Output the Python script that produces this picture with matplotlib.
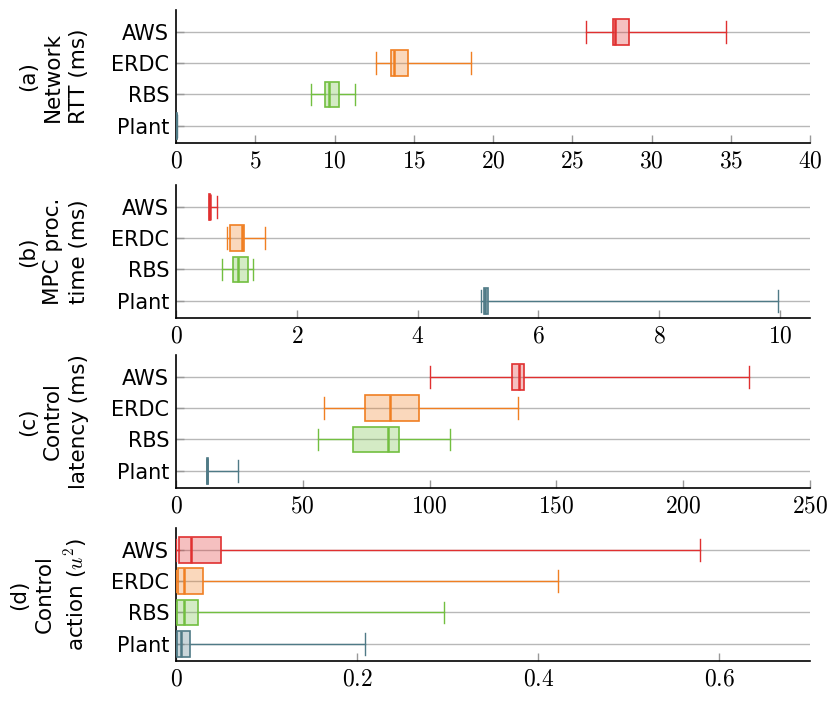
import numpy as np
import matplotlib
matplotlib.use("Agg")
import matplotlib.pyplot as plt
from matplotlib.colors import to_rgba

plt.rcParams['mathtext.fontset'] = 'cm'
plt.rcParams['font.family'] = ['DejaVu Sans']

# categories, bottom to top
sites = ["Plant", "RBS", "ERDC", "AWS"]
colors = ["#4f7a86", "#72bf40", "#f07f22", "#e03030"]

# five-number summaries per site: (whislo, q1, med, q3, whishi)
rtt = [(0.0, 0.0, 0.02, 0.05, 0.05),
       (8.52, 9.37, 9.66, 10.29, 11.3),
       (12.6, 13.57, 13.76, 14.63, 18.6),
       (25.87, 27.6, 27.7, 28.6, 34.7)]
mpc_time = [(5.05, 5.10, 5.12, 5.16, 9.97),
            (0.76, 0.94, 1.035, 1.2, 1.27),
            (0.84, 0.90, 1.09, 1.125, 1.47),
            (0.55, 0.55, 0.56, 0.57, 0.68)]
ctrl_latency = [(12.1, 12.1, 12.4, 12.7, 24.3),
                (55.9, 69.6, 83.7, 88.1, 108.0),
                (58.4, 74.7, 84.5, 95.9, 134.8),
                (100.0, 132.6, 135.3, 137.2, 226.0)]
ctrl_action = [(0.0, 0.001, 0.0056, 0.0157, 0.209),
               (0.0, 0.0014, 0.0083, 0.0245, 0.296),
               (0.0, 0.002, 0.009, 0.0296, 0.422),
               (0.0, 0.003, 0.017, 0.05, 0.579)]

panels = [
    (rtt, "(a)\nNetwork\nRTT (ms)", (0, 40), [0, 5, 10, 15, 20, 25, 30, 35, 40]),
    (mpc_time, "(b)\nMPC proc.\ntime (ms)", (0, 10.5), [0, 2, 4, 6, 8, 10]),
    (ctrl_latency, "(c)\nControl\nlatency (ms)", (0, 250), [0, 50, 100, 150, 200, 250]),
    (ctrl_action, "(d)\nControl\naction ($u^2$)", (0, 0.7), [0, 0.2, 0.4, 0.6]),
]

fig = plt.figure(figsize=(8.35, 7.03), dpi=100)
tops = [10, 185, 355, 528]
h = 133
for (data, label, xlim, ticks), top in zip(panels, tops):
    ax = fig.add_axes([176 / 835, 1 - (top + h) / 703, 634 / 835, h / 703])
    for i, (s, c) in enumerate(zip(data, colors)):
        st = dict(whislo=s[0], q1=s[1], med=s[2], q3=s[3], whishi=s[4], fliers=[])
        ax.bxp([st], positions=[i + 1], vert=False, widths=0.82, patch_artist=True,
               showfliers=False, capwidths=0.7,
               boxprops=dict(facecolor=to_rgba(c, 0.3), edgecolor=c, linewidth=1.2),
               medianprops=dict(color=c, linewidth=1.8),
               whiskerprops=dict(color=c, linewidth=1.0),
               capprops=dict(color=c, linewidth=1.0), zorder=3)
    for i in range(len(sites)):
        ax.axhline(i + 1, color="#b8b8b8", linewidth=1.0, zorder=1)
    ax.set_ylim(0.45, 4.7)
    ax.set_yticks(range(1, len(sites) + 1))
    ax.set_yticklabels(sites, fontsize=15)
    ax.set_xlim(*xlim)
    ax.set_xticks(ticks)
    ax.set_xticklabels(["$%g$" % t for t in ticks], fontsize=17)
    ax.tick_params(axis="both", direction="in", color="#999999", length=6, width=1)
    ax.tick_params(axis="y", pad=5)
    ax.tick_params(axis="x", pad=4)
    for sp in ["top", "right"]:
        ax.spines[sp].set_visible(False)
    for sp in ["left", "bottom"]:
        ax.spines[sp].set_linewidth(1.2)
    ax.set_ylabel(label, fontsize=15.5, linespacing=1.35, labelpad=16)

fig.savefig("out.png", dpi=100)
